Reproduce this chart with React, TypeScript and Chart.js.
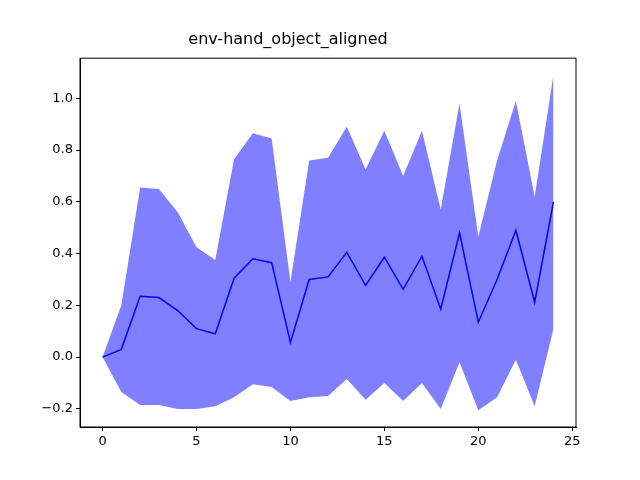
import { useEffect, useRef } from "react";
import Chart from "chart.js/auto";

const steps = [0, 1, 2, 3, 4, 5, 6, 7, 8, 9, 10, 11, 12, 13, 14, 15, 16, 17, 18, 19, 20, 21, 22, 23, 24];
const meanValues = [0, 0.03, 0.235, 0.23, 0.18, 0.11, 0.09, 0.305, 0.38, 0.365, 0.057, 0.3, 0.31, 0.405, 0.277, 0.386, 0.262, 0.39, 0.185, 0.48, 0.135, 0.3, 0.49, 0.212, 0.6];
const upperValues = [0, 0.2, 0.655, 0.65, 0.56, 0.425, 0.375, 0.765, 0.865, 0.845, 0.29, 0.76, 0.77, 0.89, 0.725, 0.875, 0.7, 0.875, 0.57, 0.98, 0.465, 0.76, 0.99, 0.62, 1.09];
const lowerValues = [0, -0.135, -0.185, -0.185, -0.2, -0.2, -0.19, -0.155, -0.105, -0.115, -0.17, -0.155, -0.15, -0.085, -0.165, -0.1, -0.17, -0.1, -0.2, -0.02, -0.205, -0.155, -0.01, -0.19, 0.11];

const toPoints = (vals: number[]) => steps.map((x, i) => ({ x, y: vals[i] }));

// draws the full box around the plot area, like matplotlib spines
const framePlugin = {
  id: "frame",
  afterDraw(chart: any) {
    const { ctx, chartArea } = chart;
    ctx.save();
    ctx.strokeStyle = "#000";
    ctx.lineWidth = 1;
    ctx.strokeRect(chartArea.left, chartArea.top, chartArea.right - chartArea.left, chartArea.bottom - chartArea.top);
    ctx.restore();
  },
};

export default function App() {
  const chartRef = useRef<HTMLCanvasElement | null>(null);

  useEffect(() => {
    if (!chartRef.current) return;
    const tickFont = { family: "DejaVu Sans", size: 13 };
    const chart = new Chart(chartRef.current, {
      type: "scatter",
      data: {
        datasets: [
          {
            data: toPoints(upperValues),
            showLine: true,
            borderWidth: 0,
            borderColor: "rgba(0,0,0,0)",
            backgroundColor: "rgba(0,0,255,0.5)",
            pointRadius: 0,
            fill: "+1",
          },
          {
            data: toPoints(lowerValues),
            showLine: true,
            borderWidth: 0,
            borderColor: "rgba(0,0,0,0)",
            pointRadius: 0,
            fill: false,
          },
          {
            data: toPoints(meanValues),
            showLine: true,
            borderColor: "#0000ff",
            borderWidth: 1.5,
            pointRadius: 0,
            fill: false,
          },
        ],
      },
      options: {
        animation: false,
        responsive: false,
        layout: { padding: { right: 64, left: 0, bottom: 0, top: 0 } },
        plugins: {
          legend: { display: false },
          tooltip: { enabled: false },
          title: {
            display: true,
            text: "env-hand_object_aligned",
            color: "#000",
            font: { family: "DejaVu Sans", size: 16, weight: "normal" },
            padding: { top: 30, bottom: 9 },
          },
        },
        scales: {
          x: {
            type: "linear",
            min: -1.2,
            max: 25.2,
            afterFit: (s: any) => { s.height = 53; },
            afterBuildTicks: (s: any) => { s.ticks = [0, 5, 10, 15, 20, 25].map((v) => ({ value: v })); },
            ticks: { color: "#000", font: tickFont, callback: (v: any) => String(v) },
            grid: { drawOnChartArea: false, drawTicks: true, tickLength: 4, color: "#000" },
            border: { display: true, color: "#000" },
          },
          y: {
            type: "linear",
            min: -0.27,
            max: 1.155,
            afterFit: (s: any) => { s.width = 80; },
            afterBuildTicks: (s: any) => { s.ticks = [-0.2, 0, 0.2, 0.4, 0.6, 0.8, 1.0].map((v) => ({ value: v })); },
            ticks: { color: "#000", font: tickFont, callback: (v: any) => (Number(v) < 0 ? "\u2212" + Math.abs(Number(v)).toFixed(1) : Number(v).toFixed(1)) },
            grid: { drawOnChartArea: false, drawTicks: true, tickLength: 4, color: "#000" },
            border: { display: true, color: "#000" },
          },
        },
      },
      plugins: [framePlugin],
    });
    return () => chart.destroy();
  }, []);

  return (
    <div style={{ position: "absolute", left: 0, top: 0, width: 640, height: 480, background: "#fff" }}>
      <canvas ref={chartRef} width={640} height={480} />
    </div>
  );
}
